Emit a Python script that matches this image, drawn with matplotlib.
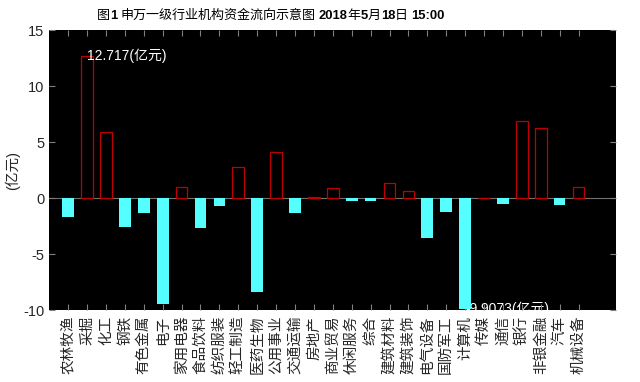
import numpy as np
import matplotlib
matplotlib.use("Agg")
import matplotlib.pyplot as plt
from matplotlib.transforms import offset_copy

plt.rcParams['font.family'] = ['Liberation Sans', 'Noto Sans CJK SC']
plt.rcParams['axes.unicode_minus'] = False

industries = ['农林牧渔', '采掘', '化工', '钢铁', '有色金属', '电子', '家用电器',
              '食品饮料', '纺织服装', '轻工制造', '医药生物', '公用事业', '交通运输',
              '房地产', '商业贸易', '休闲服务', '综合', '建筑材料', '建筑装饰',
              '电气设备', '国防军工', '计算机', '传媒', '通信', '银行', '非银金融',
              '汽车', '机械设备']
flows = [-1.71, 12.717, 5.87, -2.54, -1.30, -9.44, 1.0, -2.65, -0.68, 2.77,
         -8.35, 4.16, -1.30, 0.12, 0.91, -0.29, -0.29, 1.33, 0.65, -3.57,
         -1.24, -9.9073, 0.05, -0.56, 6.93, 6.31, -0.62, 1.0]
# title pieces: (text, bold?) - digits bold, CJK regular
title_parts = [('图', False), ('1', True), (' ', False), ('申万一级行业机构资金流向示意图', False),
               (' ', False), ('2018', True), ('年', False), ('5', True), ('月', False),
               ('18', True), ('日', False), (' ', False), ('15:00', True)]

flows = np.array(flows)
x = np.arange(1, len(flows) + 1)
pos = flows >= 0
neg = ~pos

fig = plt.figure(figsize=(6.4, 3.82), dpi=100)
ax = fig.add_axes([0.077, 0.188, 0.886, 0.733])
ax.set_facecolor('black')

ax.axhline(0, color='#707070', lw=0.8, zorder=1)
ax.bar(x[pos], flows[pos], width=0.62, facecolor='black', edgecolor='#c00000',
       linewidth=0.9, zorder=2)
ax.bar(x[neg], flows[neg], width=0.62, facecolor='#55ffff', edgecolor='none', zorder=2)

# max / min annotations
imax = int(np.argmax(flows))
imin = int(np.argmin(flows))
ax.text(x[imax], flows[imax], '%g(亿元)' % flows[imax], color='white',
        fontsize=10, ha='left', va='center', zorder=3)
ax.text(x[imin], flows[imin], '%g(亿元)' % flows[imin], color='white',
        fontsize=10, ha='left', va='center', zorder=1.5, clip_on=True)

ax.set_xlim(0, 30)
ax.set_ylim(-10, 15)
ax.set_yticks([-10, -5, 0, 5, 10, 15])
ax.set_xticks(x)
ax.set_xticklabels(industries, rotation=90, fontsize=9.5,
                   family=['Noto Sans CJK SC'], color='#262626')
ax.tick_params(axis='both', direction='in', color='#808080', length=4,
               top=True, right=True, labelsize=10.5, labelcolor='#262626')
ax.tick_params(axis='x', pad=4)
for s in ax.spines.values():
    s.set_visible(False)

ax.set_ylabel('(亿元)', fontsize=10.5, color='#262626', labelpad=2)

# title with mixed weights, laid out piece by piece
fig.canvas.draw()
renderer = fig.canvas.get_renderer()
trans = fig.transFigure
for txt, bold in title_parts:
    t = fig.text(97 / 640, 1 - 16 / 382, txt, transform=trans, ha='left', va='center',
                 fontsize=9.4, fontweight='bold' if bold else 'normal', color='black')
    bb = t.get_window_extent(renderer)
    w = bb.width if txt.strip() else 3.2
    trans = offset_copy(trans, fig=fig, x=w, y=0, units='dots')

fig.savefig('out.png', dpi=100)
